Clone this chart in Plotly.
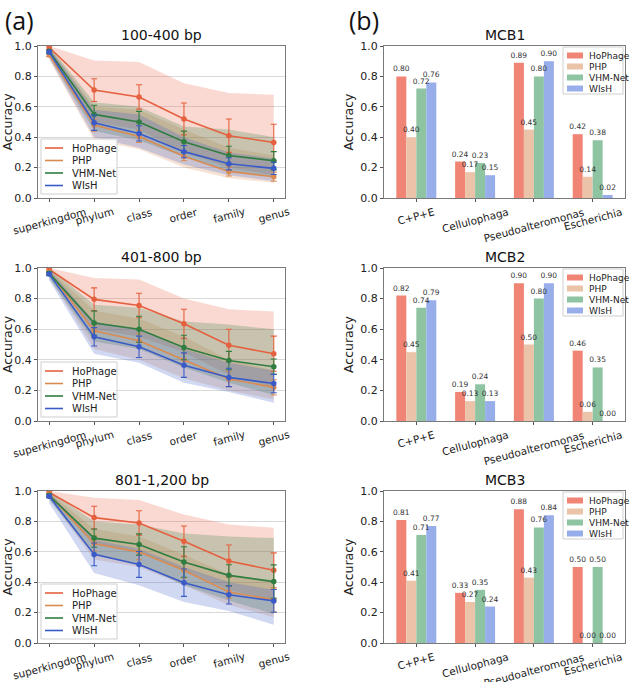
import plotly.graph_objects as go

# ---------------- data ----------------
ranks = ["superkingdom", "phylum", "class", "order", "family", "genus"]
panel_titles = ["100-400 bp", "401-800 bp", "801-1,200 bp"]
methods = ["HoPhage", "PHP", "VHM-Net", "WIsH"]

# per length panel (rows) : mean / error-bar half width / band low / band high
hophage_mean = [[0.99, 0.71, 0.665, 0.52, 0.41, 0.365],
                [0.99, 0.795, 0.755, 0.635, 0.495, 0.44],
                [0.99, 0.825, 0.79, 0.67, 0.54, 0.478]]
hophage_err = [[0.01, 0.075, 0.08, 0.105, 0.11, 0.12],
               [0.01, 0.075, 0.08, 0.095, 0.105, 0.115],
               [0.01, 0.075, 0.08, 0.10, 0.105, 0.115]]
hophage_lo = [[0.97, 0.50, 0.45, 0.30, 0.20, 0.15],
              [0.97, 0.60, 0.55, 0.45, 0.30, 0.22],
              [0.97, 0.65, 0.60, 0.48, 0.35, 0.28]]
hophage_hi = [[1.0, 0.905, 0.895, 0.755, 0.69, 0.68],
              [1.0, 0.935, 0.925, 0.80, 0.73, 0.715],
              [1.0, 0.955, 0.94, 0.845, 0.78, 0.758]]

php_mean = [[0.94, 0.48, 0.405, 0.275, 0.175, 0.14],
            [0.97, 0.59, 0.525, 0.40, 0.275, 0.22],
            [0.975, 0.655, 0.598, 0.478, 0.336, 0.284]]
php_err = [[0.01, 0.04, 0.04, 0.03, 0.03, 0.03],
           [0.01, 0.04, 0.045, 0.04, 0.05, 0.05],
           [0.01, 0.05, 0.05, 0.05, 0.04, 0.08]]
php_lo = [[0.91, 0.38, 0.32, 0.20, 0.13, 0.10],
          [0.94, 0.47, 0.40, 0.28, 0.20, 0.14],
          [0.95, 0.55, 0.50, 0.38, 0.25, 0.17]]
php_hi = [[0.99, 0.60, 0.58, 0.45, 0.33, 0.28],
          [0.99, 0.72, 0.67, 0.55, 0.40, 0.33],
          [0.99, 0.75, 0.70, 0.58, 0.45, 0.40]]

vhm_mean = [[0.965, 0.55, 0.50, 0.37, 0.28, 0.245],
            [0.965, 0.64, 0.60, 0.48, 0.395, 0.355],
            [0.97, 0.69, 0.648, 0.533, 0.445, 0.404]]
vhm_err = [[0.01, 0.06, 0.07, 0.07, 0.06, 0.06],
           [0.01, 0.08, 0.085, 0.08, 0.06, 0.05],
           [0.01, 0.06, 0.07, 0.10, 0.07, 0.11]]
vhm_lo = [[0.93, 0.44, 0.38, 0.27, 0.18, 0.14],
          [0.93, 0.52, 0.47, 0.35, 0.25, 0.17],
          [0.94, 0.58, 0.52, 0.38, 0.28, 0.19]]
vhm_hi = [[1.0, 0.63, 0.60, 0.47, 0.45, 0.40],
          [1.0, 0.76, 0.74, 0.65, 0.63, 0.60],
          [1.0, 0.80, 0.78, 0.72, 0.70, 0.69]]

wish_mean = [[0.96, 0.495, 0.425, 0.305, 0.225, 0.195],
             [0.96, 0.55, 0.485, 0.365, 0.285, 0.245],
             [0.965, 0.583, 0.517, 0.397, 0.317, 0.277]]
wish_err = [[0.01, 0.05, 0.05, 0.04, 0.04, 0.04],
            [0.01, 0.06, 0.07, 0.08, 0.06, 0.06],
            [0.01, 0.075, 0.085, 0.09, 0.06, 0.075]]
wish_lo = [[0.92, 0.40, 0.33, 0.22, 0.15, 0.11],
           [0.92, 0.44, 0.38, 0.25, 0.19, 0.12],
           [0.92, 0.46, 0.38, 0.27, 0.21, 0.12]]
wish_hi = [[0.99, 0.58, 0.55, 0.40, 0.30, 0.26],
           [0.99, 0.65, 0.60, 0.47, 0.38, 0.33],
           [0.99, 0.68, 0.62, 0.50, 0.40, 0.35]]

# bar panels
genera = ["C+P+E", "Cellulophaga", "Pseudoalteromonas", "Escherichia"]
mcb_titles = ["MCB1", "MCB2", "MCB3"]
bar_hophage = [[0.80, 0.24, 0.89, 0.42], [0.82, 0.19, 0.90, 0.46], [0.81, 0.33, 0.88, 0.50]]
bar_php = [[0.40, 0.17, 0.45, 0.14], [0.45, 0.13, 0.50, 0.06], [0.41, 0.27, 0.43, 0.00]]
bar_vhm = [[0.72, 0.23, 0.80, 0.38], [0.74, 0.24, 0.80, 0.35], [0.71, 0.35, 0.76, 0.50]]
bar_wish = [[0.76, 0.15, 0.90, 0.02], [0.79, 0.13, 0.90, 0.00], [0.77, 0.24, 0.84, 0.00]]

# ---------------- styles ----------------
line_colors = ["#E5603F", "#D98B52", "#2F7D40", "#3A5BC7"]
band_rgb = [(229, 96, 63), (217, 139, 82), (47, 125, 64), (58, 91, 199)]
bar_colors = ["#F08475", "#EBC3A9", "#8EC4A2", "#98AEEB"]
FONT = "DejaVu Sans"
W, H = 633, 682

left_x = (38, 285)
right_x = (384, 625)
rows_y = [(46, 198), (268, 421), (491, 643)]

line_series = [
    (hophage_mean, hophage_err, hophage_lo, hophage_hi),
    (php_mean, php_err, php_lo, php_hi),
    (vhm_mean, vhm_err, vhm_lo, vhm_hi),
    (wish_mean, wish_err, wish_lo, wish_hi),
]
bar_series = [bar_hophage, bar_php, bar_vhm, bar_wish]


def px_x(x):
    return x / W


def px_y(y):
    return 1 - y / H


fig = go.Figure()
layout = dict(width=W, height=H, margin=dict(l=0, r=0, t=0, b=0),
              paper_bgcolor="white", plot_bgcolor="white",
              font=dict(family=FONT, color="#222"),
              barmode="group", bargap=0.32, bargroupgap=0.0,
              showlegend=False)
annotations = []
shapes = []

axis_common = dict(showline=True, mirror=True, linecolor="#7a7a7a", linewidth=1,
                   ticks="outside", ticklen=3, tickcolor="#555", zeroline=False,
                   automargin=False)


def add_legend_box(x0, y0, x1, y1):
    shapes.append(dict(type="rect", xref="paper", yref="paper",
                       x0=px_x(x0), x1=px_x(x1), y0=px_y(y1), y1=px_y(y0),
                       line=dict(color="#cfcfcf", width=1),
                       fillcolor="rgba(255,255,255,0.85)", layer="above"))


for r in range(3):
    li = 2 * r + 1
    bi = 2 * r + 2
    xl = "x" if li == 1 else f"x{li}"
    yl = "y" if li == 1 else f"y{li}"
    xb, yb = f"x{bi}", f"y{bi}"

    # ----- left: line panel -----
    for k in range(4):
        mean, err, lo, hi = line_series[k]
        rr, gg, bb = band_rgb[k]
        fig.add_trace(go.Scatter(
            x=ranks + ranks[::-1], y=hi[r] + lo[r][::-1],
            fill="toself", fillcolor=f"rgba({rr},{gg},{bb},0.24)",
            line=dict(width=0), mode="lines", hoverinfo="skip",
            showlegend=False, xaxis=xl, yaxis=yl))
    for k in range(4):
        mean, err, lo, hi = line_series[k]
        fig.add_trace(go.Scatter(
            x=ranks, y=mean[r], mode="lines+markers",
            line=dict(color=line_colors[k], width=1.6),
            marker=dict(color=line_colors[k], size=5.5),
            error_y=dict(type="data", array=err[r], color=line_colors[k],
                         thickness=1.1, width=3),
            showlegend=False, xaxis=xl, yaxis=yl, name=methods[k]))

    # ----- right: bar panel -----
    for k in range(4):
        fig.add_trace(go.Bar(
            x=genera, y=bar_series[k][r], name=methods[k], offsetgroup=str(k),
            marker=dict(color=bar_colors[k], line=dict(width=0)),
            showlegend=False, xaxis=xb, yaxis=yb))
    # value labels on top layer
    for k in range(4):
        fig.add_trace(go.Bar(
            x=genera, y=bar_series[k][r], name=methods[k], offsetgroup=str(k),
            marker=dict(color="rgba(0,0,0,0)", line=dict(width=0)),
            texttemplate="%{y:.2f}", textposition="outside",
            textfont=dict(size=7.5, color="#333"), constraintext="none",
            cliponaxis=False, hoverinfo="skip",
            showlegend=False, xaxis=xb, yaxis=yb))

    key_xl = "xaxis" if li == 1 else f"xaxis{li}"
    key_yl = "yaxis" if li == 1 else f"yaxis{li}"
    layout[key_xl] = dict(axis_common, domain=[px_x(left_x[0]), px_x(left_x[1])], anchor=yl,
                          type="category", categoryorder="array", categoryarray=ranks,
                          range=[-0.25, 5.25], showticklabels=False, showgrid=False)
    layout[key_yl] = dict(axis_common, domain=[px_y(rows_y[r][1]), px_y(rows_y[r][0])], anchor=xl,
                          range=[0, 1.0], dtick=0.2, tickformat=".1f",
                          tickfont=dict(size=11, color="#222"),
                          showgrid=True, gridcolor="#d9d9d9", gridwidth=1,
                          title=dict(text="Accuracy", font=dict(size=12.5, color="#222"), standoff=3))
    layout[f"xaxis{bi}"] = dict(axis_common, domain=[px_x(right_x[0]), px_x(right_x[1])], anchor=yb,
                                type="category", categoryorder="array", categoryarray=genera,
                                range=[-0.55, 3.55], showticklabels=False, showgrid=False)
    layout[f"yaxis{bi}"] = dict(axis_common, domain=[px_y(rows_y[r][1]), px_y(rows_y[r][0])], anchor=xb,
                                range=[0, 1.0], dtick=0.2, tickformat=".1f",
                                tickfont=dict(size=11, color="#222"), showgrid=False,
                                title=dict(text="Accuracy", font=dict(size=12.5, color="#222"), standoff=3))

    # rotated category labels (centred under each tick, like rotation=15)
    for c in ranks:
        annotations.append(dict(text=c, x=c, xref=xl, y=0, yref=f"{yl} domain",
                                xanchor="center", yanchor="top", textangle=-15, yshift=-5,
                                showarrow=False, font=dict(size=10.5, color="#222")))
    for c in genera:
        annotations.append(dict(text=c, x=c, xref=xb, y=0, yref=f"{yb} domain",
                                xanchor="center", yanchor="top", textangle=-15, yshift=-5,
                                showarrow=False, font=dict(size=10.5, color="#222")))

    top, bot = rows_y[r]
    # panel titles
    annotations.append(dict(text=panel_titles[r], x=px_x((left_x[0] + left_x[1]) / 2),
                            y=px_y(top - 1), xref="paper", yref="paper",
                            xanchor="center", yanchor="bottom", showarrow=False,
                            font=dict(size=14, color="#111")))
    annotations.append(dict(text=mcb_titles[r], x=px_x((right_x[0] + right_x[1]) / 2),
                            y=px_y(top - 1), xref="paper", yref="paper",
                            xanchor="center", yanchor="bottom", showarrow=False,
                            font=dict(size=14, color="#111")))

    # legend (line panel, lower left)
    add_legend_box(41, bot - 59, 117, bot - 4)
    for k in range(4):
        yc = bot - 50 + 12.5 * k
        shapes.append(dict(type="line", xref="paper", yref="paper",
                           x0=px_x(45), x1=px_x(63), y0=px_y(yc), y1=px_y(yc),
                           line=dict(color=line_colors[k], width=1.6), layer="above"))
        annotations.append(dict(text=methods[k], x=px_x(70), y=px_y(yc),
                                xref="paper", yref="paper", xanchor="left", yanchor="middle",
                                showarrow=False, font=dict(size=10, color="#222")))
    # legend (bar panel, upper right)
    add_legend_box(563, top + 1, 623, top + 48)
    for k in range(4):
        yc = top + 9.5 + 11 * k
        shapes.append(dict(type="rect", xref="paper", yref="paper",
                           x0=px_x(567), x1=px_x(583), y0=px_y(yc + 3), y1=px_y(yc - 3),
                           fillcolor=bar_colors[k], line=dict(width=0), layer="above"))
        annotations.append(dict(text=methods[k], x=px_x(587), y=px_y(yc),
                                xref="paper", yref="paper", xanchor="left", yanchor="middle",
                                showarrow=False, font=dict(size=9, color="#222")))

annotations.append(dict(text="(a)", x=px_x(3), y=px_y(1), xref="paper", yref="paper",
                        xanchor="left", yanchor="top", showarrow=False,
                        font=dict(size=25, color="#111", family="Open Sans")))
annotations.append(dict(text="(b)", x=px_x(347), y=px_y(1), xref="paper", yref="paper",
                        xanchor="left", yanchor="top", showarrow=False,
                        font=dict(size=25, color="#111", family="Open Sans")))
layout["annotations"] = annotations
layout["shapes"] = shapes

fig.update_layout(**layout)
fig.write_html("out.html", config={"displayModeBar": False},
               post_script="document.body.style.margin='0';document.body.style.overflow='hidden';")
